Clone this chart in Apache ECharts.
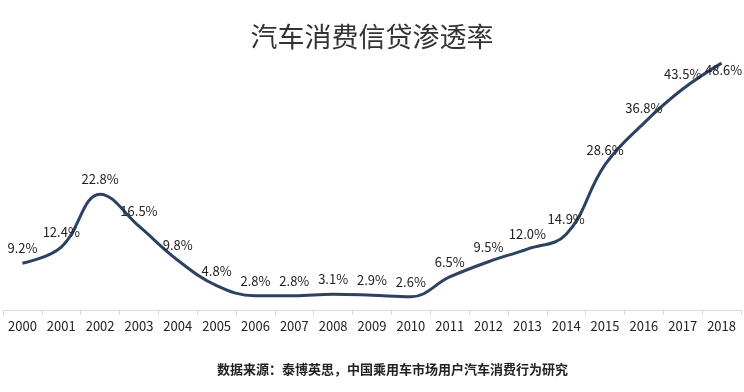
<!DOCTYPE html>
<html><head><meta charset="utf-8">
<script src="https://cdn.jsdelivr.net/npm/echarts@6/dist/echarts.min.js"></script>
<style>html,body{margin:0;padding:0;background:#fff}#c{width:744px;height:392px}</style>
</head><body><div id="c"></div>
<script>
var titleText = '汽车消费信贷渗透率';
var sourceText = '数据来源：泰博英思，中国乘用车市场用户汽车消费行为研究';
var years = ['2000','2001','2002','2003','2004','2005','2006','2007','2008','2009','2010','2011','2012','2013','2014','2015','2016','2017','2018'];
var rates = [9.2,12.4,22.8,16.5,9.8,4.8,2.8,2.8,3.1,2.9,2.6,6.5,9.5,12.0,14.9,28.6,36.8,43.5,48.6];

var chart = echarts.init(document.getElementById('c'), null, {renderer:'canvas'});
var font = '"Noto Sans CJK SC", "Open Sans", sans-serif';
var seriesData = rates.map(function(v, i){
  var d = {value:v};
  if (i === rates.length - 1) d.label = {offset:[2,22]};
  return d;
});
chart.setOption({
  backgroundColor:'#fff',
  animation:false,
  title:[{text:titleText,left:'center',top:18,textStyle:{fontFamily:font,fontSize:27,fontWeight:'normal',color:'#333'}},
         {text:sourceText,left:212,top:358,textStyle:{fontFamily:font,fontSize:13,fontWeight:'bold',color:'#222'}}],
  grid:{left:3,right:3,top:56,bottom:82,containLabel:false},
  xAxis:{type:'category',data:years,boundaryGap:true,
    axisLine:{lineStyle:{color:'#d9d9d9',width:1}},
    axisTick:{show:true,length:5,lineStyle:{color:'#d9d9d9'}},
    axisLabel:{fontFamily:font,fontSize:13,color:'#222',margin:10}},
  yAxis:{type:'value',min:0,max:50,show:false,splitLine:{show:false}},
  series:[{type:'line',data:seriesData,smooth:0.4,symbol:'circle',symbolSize:1,showSymbol:true,
    itemStyle:{color:'rgba(0,0,0,0)'},
    lineStyle:{color:'#2b4260',width:3},
    label:{show:true,position:'top',distance:8,formatter:function(p){return p.value.toFixed(1)+'%';},
      fontFamily:font,fontSize:13,color:'#222'}}]
});
</script></body></html>
